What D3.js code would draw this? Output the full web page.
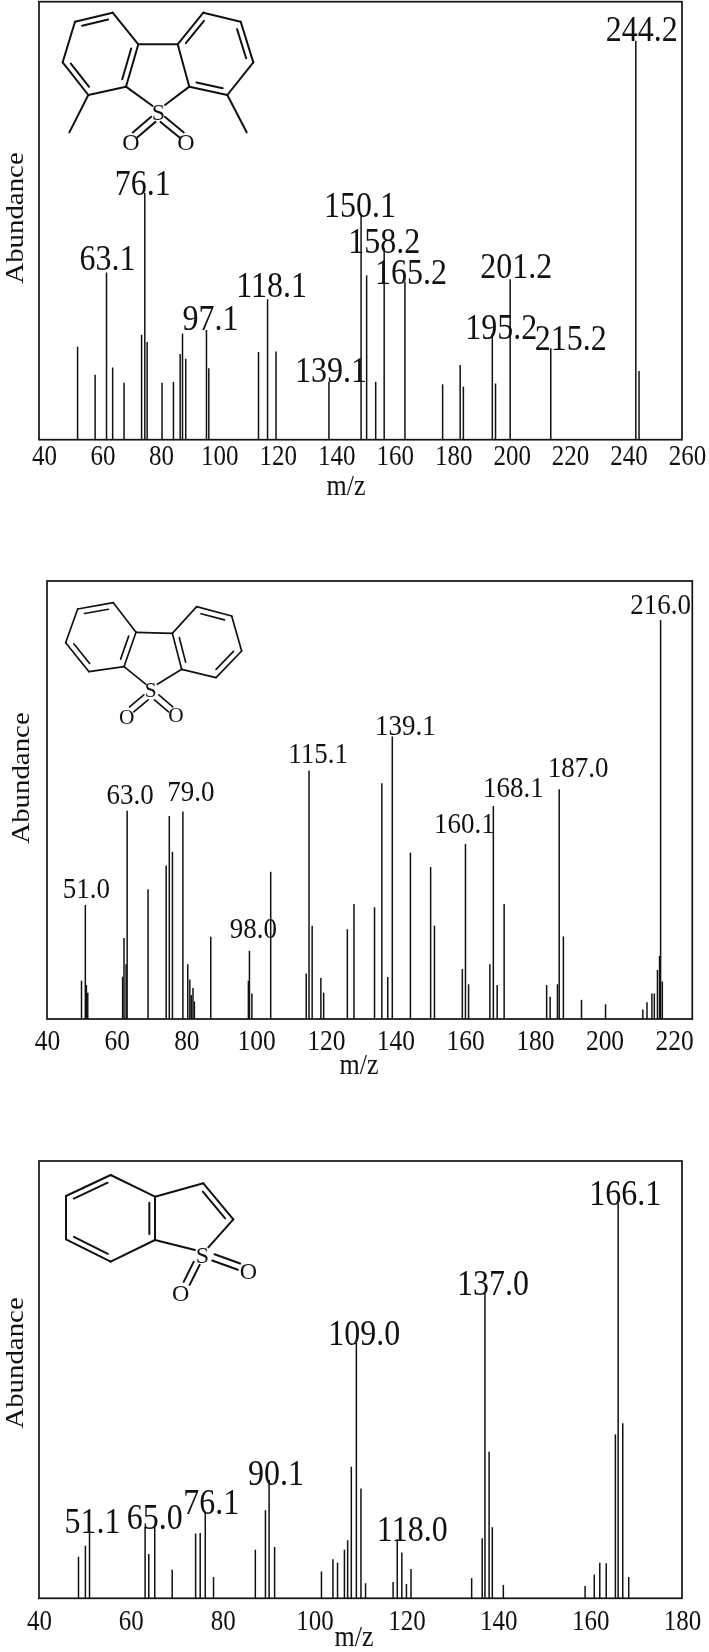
<!DOCTYPE html>
<html><head><meta charset="utf-8">
<script src="https://cdn.jsdelivr.net/npm/d3@7/dist/d3.min.js"></script>
<style>html,body{margin:0;padding:0;background:#fff}svg{display:block;filter:blur(0.35px)}text{font-family:"Liberation Serif",serif;fill:#111}</style>
</head><body><svg id="c" width="709" height="1652"></svg>
<script>
// Spectrum 1 : 4,6-dimethyldibenzothiophene sulfone
const mz1=[53.2,59.2,63.1,65.2,69.1,75.1,76.2,77,82.1,86,88.3,89.1,90.2,97.3,98.1,115.1,118.2,121.1,139.2,150.2,152.1,155.2,158.1,165.2,178.1,184.1,185.2,195.1,196.2,201.2,215.1,244.2,245.3];
const ab1=[23.3,16.3,41.9,18.1,14.3,26.3,61.9,24.5,14.3,14.5,21.5,26.6,20.3,27.5,17.9,22,35.2,22.1,14.5,56.7,41.2,14.5,48,39.6,13.9,18.7,13.3,26.6,14.1,40.2,22.9,100,17.2];
const labelPeak1=[244.2,76.2,63.1,150.2,158.1,165.2,118.2,97.3,201.2,195.1,215.1,139.2];
const labelText1=["244.2","76.1","63.1","150.1","158.2","165.2","118.1","97.1","201.2","195.2","215.2","139.1"];
const labelDx1=[6,-2,1,-1,0,6,4,4,6,9,20,2];
const labelDy1=[0,2,-3,3,5,2,-2,0,-1,5,2,0];
const ticks1=[40,60,80,100,120,140,160,180,200,220,240,260];
// Spectrum 2 : dibenzothiophene sulfone
const mz2=[49.9,51,51.3,51.7,61.7,62.1,62.7,63,69,74.2,75.1,76,79,80.4,81,81.4,81.9,82.3,87,97.8,98.1,98.8,104.2,114.4,115.2,116.1,118.6,119.4,126.2,128.1,134,136.1,137.8,139.1,144.3,150.1,151.2,159.2,160.1,161,167.1,168.1,169.2,171.2,183.4,184.4,186.5,187,188.2,193.4,200.3,211,212.2,213.6,214.3,215.2,215.8,216.1,216.6];
const ab2=[9.6,28.6,8.5,6.6,10.6,20.3,13.7,52.2,32.5,38.5,50.9,41.9,52,13.7,9.9,6,7.8,4.4,20.6,9.6,17.1,6.4,36.9,11.4,62.3,23.4,10.3,6.6,22.5,28.8,28,59.1,10.5,70.8,41.7,38.1,23.4,12.5,43.9,8.7,13.7,53.4,8.5,28.8,8.5,5.6,8.7,57.6,20.7,4.8,3.7,2.4,4.2,6.4,6.4,12.3,15.8,100,9.4];
const labelPeak2=[216.1,139.1,115.2,187,168.1,160.1,63,79,51,98.1];
const labelText2=["216.0","139.1","115.1","187.0","168.1","160.1","63.0","79.0","51.0","98.0"];
const labelDx2=[0,13,9,19,20,-1,3,8,1,4];
const labelDy2=[-6,-2,-7,-12,-9,-11,-7,-11,-7,-13];
const ticks2=[40,60,80,100,120,140,160,180,200,220];
// Spectrum 3 : benzothiophene sulfone
const mz3=[48.6,50.1,51,63.1,63.9,65.2,69,74.1,75.1,76.2,78,87.1,89.3,90.1,91.3,101.5,104,105,106.5,107.2,108,109.1,110.1,111.1,117.1,118,119,120,121,134.2,136.5,137.1,138,138.7,141.1,158.9,160.9,162.1,163.5,165.5,166.1,167.1,168.4];
const ab3=[10.5,13.3,16.9,18.1,11.2,18.1,7.2,16.4,16.5,21.9,5.4,12.3,22.3,30,13,6.8,9.9,9,12.3,14.7,33.3,64.7,27.8,3.8,4.1,14.9,11.6,3.6,7.4,5.1,15.2,77.2,37.1,18,3.4,3.1,6,9,8.9,41.5,100,44.3,5.4];
const labelPeak3=[166.1,137.1,109.1,90.1,76.2,65.2,51,118];
const labelText3=["166.1","137.0","109.0","90.1","76.1","65.0","51.1","118.0"];
const labelDx3=[7,8,8,7,6,0,3,15];
const labelDy3=[2,2,2,5,2,2,1,2];
const ticks3=[40,60,80,100,120,140,160,180];
// Structural formulas: bond lists [x1,y1,x2,y2,kind]; kind 0 single, 1 inner line to ring A, 2 inner line to ring B, 3 centred double
const bonds1=[[135,65,248,38,1],[248,38,325,133,0],[325,133,288,260,1],[288,260,175,285,0],[175,285,98,187,1],[98,187,135,65,0],[325,133,443,133,0],[443,133,520,38,2],[520,38,632,65,0],[632,65,670,187,2],[670,187,592,285,0],[592,285,478,260,2],[478,260,443,133,0],[288,260,368,318,0],[478,260,405,315,0],[175,285,118,397,0],[592,285,650,397,0],[370,358,315,405,3],[398,358,455,405,3]];
const rings1=[[213,160],[555,160]];
const atoms1=[["S",385,335],["O",303,425],["O",468,425]];
const bonds2=[[113,57,220,38,1],[220,38,288,127,0],[288,127,252,230,1],[252,230,147,245,0],[147,245,77,158,1],[77,158,113,57,0],[288,127,397,130,0],[397,130,470,50,0],[470,50,575,78,2],[575,78,605,183,0],[605,183,528,263,2],[528,263,425,238,0],[425,238,397,130,2],[252,230,318,283,0],[425,238,352,283,0],[318,322,275,358,3],[350,322,392,358,3]];
const rings2=[[183,143],[500,157]];
const atoms2=[["S",332,300],["O",260,380],["O",408,375]];
const bonds3=[[78,108,212,45,1],[212,45,345,110,0],[345,110,345,240,1],[345,240,212,305,0],[212,305,78,238,1],[78,238,78,108,0],[345,110,490,70,0],[490,70,580,178,2],[580,178,505,262,0],[345,240,465,270,0],[520,292,597,320,3],[470,310,440,370,3]];
const rings3=[[212,175],[440,180]];
const atoms3=[["S",487,285],["O",625,332],["O",422,400]];

const svg=d3.select("#c");
const ink="#111";
function spectrum(o){
  const x=d3.scaleLinear().domain(o.xDomain).range([o.l,o.r]);
  const y=d3.scaleLinear().domain([0,o.yMax]).range([o.b,o.t]);
  const g=svg.append("g");
  g.selectAll("line.p").data(o.mz).join("line").attr("class","p")
    .attr("x1",d=>x(d)).attr("x2",d=>x(d)).attr("y1",o.b)
    .attr("y2",(d,i)=>y(o.ab[i])).attr("stroke",ink).attr("stroke-width",1.5);
  g.append("rect").attr("x",o.l).attr("y",o.t).attr("width",o.r-o.l).attr("height",o.b-o.t)
    .attr("fill","none").attr("stroke",ink).attr("stroke-width",1.7);
  const ax=g.append("g").attr("transform",`translate(0,${o.b})`)
    .call(d3.axisBottom(x).tickValues(o.ticks).tickSize(0).tickFormat(d3.format("d")));
  ax.select(".domain").remove();
  ax.selectAll("text").attr("font-size",o.tickSize).attr("font-family","Liberation Serif").attr("fill",ink)
    .attr("dy",0).attr("y",0)
    .attr("transform",`translate(${o.tickDx},${o.tickY}) scale(1,${o.tickStretch})`);
  g.append("text").attr("text-anchor","middle").attr("font-size",o.titleSize)
    .attr("transform",`translate(${o.xTitleX},${o.xTitleY}) scale(1,1.1)`).text("m/z");
  g.append("text").attr("text-anchor","middle").attr("font-size",o.titleSize)
    .attr("transform",`translate(${o.yTitleX},${o.yTitleY}) rotate(-90) scale(1.11,1)`).text("Abundance");
  o.labelPeak.forEach((m,i)=>{
    const a=o.ab[o.mz.indexOf(m)];
    g.append("text").attr("text-anchor","middle").attr("font-size",o.labelSize)
      .attr("transform",`translate(${x(m)+o.dx[i]},${y(a)+o.dy[i]}) scale(1,${o.stretch})`)
      .text(o.labelText[i]);
  });
  const m=g.append("g").attr("transform",`translate(${o.mol.x},${o.mol.y}) scale(${1/3})`);
  o.mol.bonds.forEach(b=>{
    const [a1,b1,a2,b2,k]=b;
    const len=Math.hypot(a2-a1,b2-b1),nx=-(b2-b1)/len,ny=(a2-a1)/len;
    const seg=(p,q,r,s)=>m.append("path").attr("d",d3.line()([[p,q],[r,s]])).attr("stroke",ink).attr("stroke-width",o.mol.w).attr("fill","none").attr("stroke-linecap","round");
    if(k===3){const h=10;seg(a1+nx*h,b1+ny*h,a2+nx*h,b2+ny*h);seg(a1-nx*h,b1-ny*h,a2-nx*h,b2-ny*h);return;}
    seg(a1,b1,a2,b2);
    if(k>0){
      const c=o.mol.rings[k-1],mx=(a1+a2)/2,my=(b1+b2)/2;
      const sgn=((c[0]-mx)*nx+(c[1]-my)*ny)>0?1:-1,off=17*sgn,ux=(a2-a1)/len*18,uy=(b2-b1)/len*18;
      seg(a1+nx*off+ux,b1+ny*off+uy,a2+nx*off-ux,b2+ny*off-uy);
    }
  });
  o.mol.atoms.forEach(t=>{
    m.append("text").attr("x",t[1]).attr("y",t[2]).attr("text-anchor","middle").attr("dominant-baseline","central")
      .attr("font-size",o.mol.fs).attr("font-family",o.mol.font).text(t[0]);
  });
}
spectrum({mz:mz1,ab:ab1,labelPeak:labelPeak1,labelText:labelText1,dx:labelDx1,dy:labelDy1,ticks:ticks1,
  xDomain:[40,260],yMax:109.8,l:39,r:682,t:1.7,b:439.7,tickSize:25,labelSize:32,stretch:1.12,tickStretch:1.2,tickY:25.5,tickDx:5,
  titleSize:26,xTitleX:346,xTitleY:495,yTitleX:23,yTitleY:218,
  mol:{x:30,y:0,bonds:bonds1,rings:rings1,atoms:atoms1,w:6,fs:72,font:"Liberation Serif"}});
spectrum({mz:mz2,ab:ab2,labelPeak:labelPeak2,labelText:labelText2,dx:labelDx2,dy:labelDy2,ticks:ticks2,
  xDomain:[40,225.2],yMax:109.8,l:47,r:692.3,t:581,b:1019,tickSize:25.5,labelSize:27,stretch:1.12,tickStretch:1.15,tickY:31,tickDx:0,
  titleSize:26,xTitleX:359,xTitleY:1074,yTitleX:29,yTitleY:778,
  mol:{x:40,y:590,bonds:bonds2,rings:rings2,atoms:atoms2,w:5,fs:64,font:"Liberation Sans"}});
spectrum({mz:mz3,ab:ab3,labelPeak:labelPeak3,labelText:labelText3,dx:labelDx3,dy:labelDy3,ticks:ticks3,
  xDomain:[40,180],yMax:110.7,l:39,r:682,t:1161,b:1598.3,tickSize:25,labelSize:32,stretch:1.12,tickStretch:1.2,tickY:32,tickDx:0,
  titleSize:26,xTitleX:354,xTitleY:1646,yTitleX:23,yTitleY:1363,
  mol:{x:40,y:1160,bonds:bonds3,rings:rings3,atoms:atoms3,w:6,fs:72,font:"Liberation Sans"}});
</script></body></html>
